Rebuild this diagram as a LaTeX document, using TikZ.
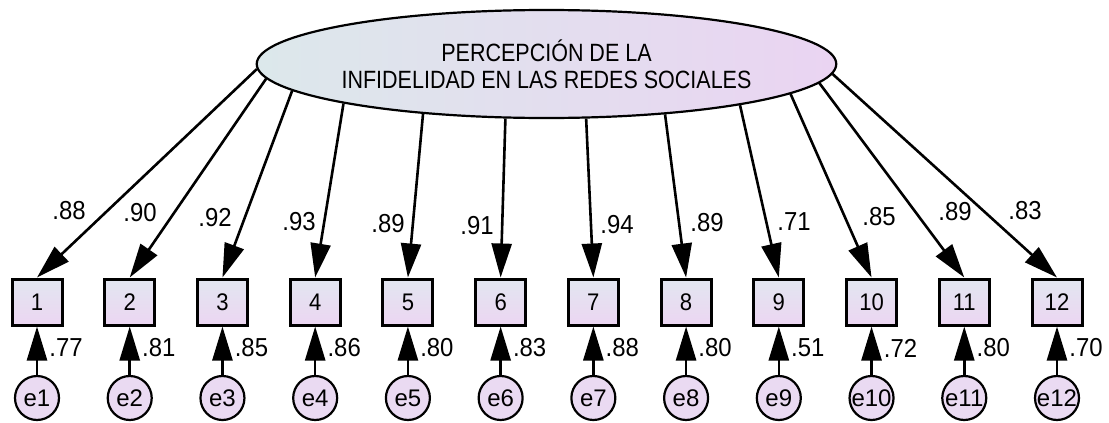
\documentclass[tikz,border=0pt]{standalone}
\usepackage{fontspec}
\setmainfont{Liberation Sans}
\newfontfamily\narrowfont{Liberation Sans}[FakeStretch=0.92]
\newfontfamily\tallfont{Liberation Sans}[FakeStretch=0.86]
\usetikzlibrary{arrows.meta,shapes.geometric}
\newcommand{\ItemGap}{92.727}
\definecolor{latleft}{RGB}{220,232,235}
\definecolor{latright}{RGB}{234,212,242}
\definecolor{itemtop}{RGB}{226,230,240}
\definecolor{itembottom}{RGB}{236,214,242}
\definecolor{errfill}{RGB}{234,218,242}
\tikzset{
  latent/.style={ellipse, draw, line width=1.1pt, left color=latleft, right color=latright,
    minimum width=288.5pt, minimum height=54pt, inner sep=0pt, align=center,
    font=\tallfont\fontsize{12.5}{13.5}\selectfont},
  item/.style={rectangle, draw, line width=1.5pt, top color=itemtop, bottom color=itembottom,
    minimum width=25pt, minimum height=23pt, inner sep=0pt,
    font=\narrowfont\fontsize{12}{12}\selectfont},
  errterm/.style={circle, draw, line width=1.1pt, fill=errfill, minimum size=22pt,
    inner sep=0pt, font=\fontsize{12}{12}\selectfont},
  loadarrow/.style={line width=1.3pt, -{Triangle[length=17pt,width=10pt]}},
  coef/.style={inner sep=0pt, font=\narrowfont\fontsize{13}{14}\selectfont}
}
\begin{document}
\begin{tikzpicture}[x=0.5pt,y=-0.5pt]
\useasboundingbox (0,0) rectangle (1109,423);

\node[latent] (lat) at (546.5,64) {PERCEPCIÓN DE LA\\INFIDELIDAD EN LAS REDES SOCIALES};

% observed items
\node[item] (b1) at (37 + 0*\ItemGap,302) {1};
\node[item] (b2) at (37 + 1*\ItemGap,302) {2};
\node[item] (b3) at (37 + 2*\ItemGap,302) {3};
\node[item] (b4) at (37 + 3*\ItemGap,302) {4};
\node[item] (b5) at (37 + 4*\ItemGap,302) {5};
\node[item] (b6) at (37 + 5*\ItemGap,302) {6};
\node[item] (b7) at (37 + 6*\ItemGap,302) {7};
\node[item] (b8) at (37 + 7*\ItemGap,302) {8};
\node[item] (b9) at (37 + 8*\ItemGap,302) {9};
\node[item] (b10) at (37 + 9*\ItemGap,302) {10};
\node[item] (b11) at (37 + 10*\ItemGap,302) {11};
\node[item] (b12) at (37 + 11*\ItemGap,302) {12};

% error terms
\node[errterm] (e1) at (37 + 0*\ItemGap,398) {e1};
\node[errterm] (e2) at (37 + 1*\ItemGap,398) {e2};
\node[errterm] (e3) at (37 + 2*\ItemGap,398) {e3};
\node[errterm] (e4) at (37 + 3*\ItemGap,398) {e4};
\node[errterm] (e5) at (37 + 4*\ItemGap,398) {e5};
\node[errterm] (e6) at (37 + 5*\ItemGap,398) {e6};
\node[errterm] (e7) at (37 + 6*\ItemGap,398) {e7};
\node[errterm] (e8) at (37 + 7*\ItemGap,398) {e8};
\node[errterm] (e9) at (37 + 8*\ItemGap,398) {e9};
\node[errterm] (e10) at (37 + 9*\ItemGap,398) {e10};
\node[errterm] (e11) at (37 + 10*\ItemGap,398) {e11};
\node[errterm] (e12) at (37 + 11*\ItemGap,398) {e12};

% loadings
\draw[loadarrow] (lat.181.8) -- (b1.north);
\draw[loadarrow] (lat.183.1) -- (b2.north);
\draw[loadarrow] (lat.186.3) -- (b3.north);
\draw[loadarrow] (lat.191.6) -- (b4.north);
\draw[loadarrow] (lat.202.4) -- (b5.north);
\draw[loadarrow] (lat.233.1) -- (b6.north);
\draw[loadarrow] (lat.306.9) -- (b7.north);
\draw[loadarrow] (lat.337.6) -- (b8.north);
\draw[loadarrow] (lat.348.4) -- (b9.north);
\draw[loadarrow] (lat.353.7) -- (b10.north);
\draw[loadarrow] (lat.356.9) -- (b11.north);
\draw[loadarrow] (lat.358.2) -- (b12.north);

\node[coef] (c1) at (69,211) {.88};
\node[coef] (c2) at (140,213) {.90};
\node[coef] (c3) at (215,218) {.92};
\node[coef] (c4) at (299,222) {.93};
\node[coef] (c5) at (388,224) {.89};
\node[coef] (c6) at (477,226) {.91};
\node[coef] (c7) at (617,225) {.94};
\node[coef] (c8) at (707,223) {.89};
\node[coef] (c9) at (794,222) {.71};
\node[coef] (c10) at (879,217) {.85};
\node[coef] (c11) at (955,212) {.89};
\node[coef] (c12) at (1025,211) {.83};

% residual paths
\draw[loadarrow] (e1) -- (b1);
\draw[loadarrow] (e2) -- (b2);
\draw[loadarrow] (e3) -- (b3);
\draw[loadarrow] (e4) -- (b4);
\draw[loadarrow] (e5) -- (b5);
\draw[loadarrow] (e6) -- (b6);
\draw[loadarrow] (e7) -- (b7);
\draw[loadarrow] (e8) -- (b8);
\draw[loadarrow] (e9) -- (b9);
\draw[loadarrow] (e10) -- (b10);
\draw[loadarrow] (e11) -- (b11);
\draw[loadarrow] (e12) -- (b12);

\node[coef] (r1) at (37 + 0*\ItemGap + 29,348) {.77};
\node[coef] (r2) at (37 + 1*\ItemGap + 29,348) {.81};
\node[coef] (r3) at (37 + 2*\ItemGap + 29,348) {.85};
\node[coef] (r4) at (37 + 3*\ItemGap + 29,348) {.86};
\node[coef] (r5) at (37 + 4*\ItemGap + 29,348) {.80};
\node[coef] (r6) at (37 + 5*\ItemGap + 29,348) {.83};
\node[coef] (r7) at (37 + 6*\ItemGap + 29,348) {.88};
\node[coef] (r8) at (37 + 7*\ItemGap + 29,348) {.80};
\node[coef] (r9) at (37 + 8*\ItemGap + 29,348) {.51};
\node[coef] (r10) at (37 + 9*\ItemGap + 29,348) {.72};
\node[coef] (r11) at (37 + 10*\ItemGap + 29,348) {.80};
\node[coef] (r12) at (37 + 11*\ItemGap + 29,348) {.70};

\end{tikzpicture}
\end{document}
